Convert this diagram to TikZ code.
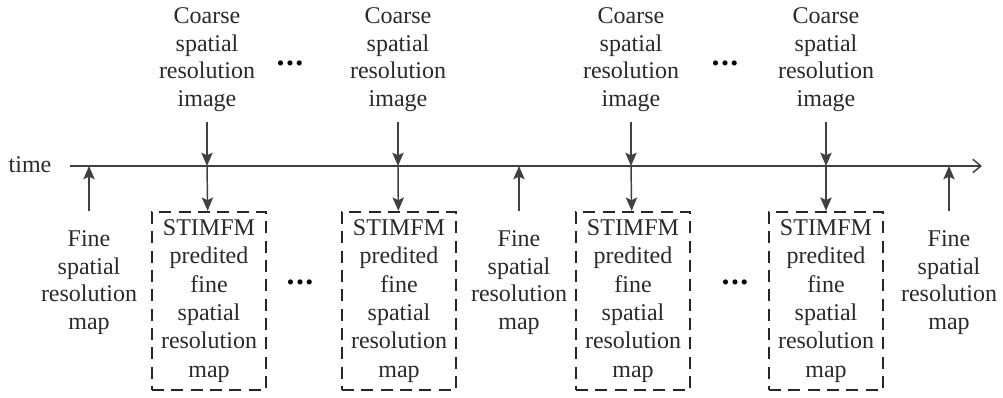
\documentclass[tikz,border=0pt]{standalone}
\usepackage{fontspec}
\setmainfont{Liberation Serif}
\usepackage{xcolor}
\usetikzlibrary{arrows.meta}

\definecolor{linegray}{HTML}{404040}
\definecolor{textgray}{HTML}{2A2A2A}

\begin{document}
\begin{tikzpicture}[x=0.75pt,y=-0.75pt,font=\fontsize{18}{20.6}\selectfont,text=textgray]
\useasboundingbox (0,0) rectangle (1003,398);
% time axis
\coordinate (AX-start) at (70,166);
\coordinate (AX-end) at (982,166);
\node (TIME) at (30,165) {time};
\begin{scope}[every node/.style={align=center,inner sep=2pt,anchor=north}]
\node (IMG-1) at (207,5) {Coarse\\spatial\\resolution\\image};
\node (IMG-2) at (398,5) {Coarse\\spatial\\resolution\\image};
\node (IMG-3) at (631,5) {Coarse\\spatial\\resolution\\image};
\node (IMG-4) at (826,5) {Coarse\\spatial\\resolution\\image};
\node (MAP-1) at (89,228) {Fine\\spatial\\resolution\\map};
\node (MAP-2) at (519,228) {Fine\\spatial\\resolution\\map};
\node (MAP-3) at (949,228) {Fine\\spatial\\resolution\\map};
\end{scope}\begin{scope}[every node/.style={align=center,draw=black!85,line width=1.8pt,dash pattern=on 9pt off 5.5pt,minimum width=85.5pt,minimum height=133.5pt,inner sep=1pt,font=\fontsize{18}{21.2}\selectfont}]
\node (PRED-1) at (209,301) {STIMFM\\predited\\fine\\spatial\\resolution\\map};
\node (PRED-2) at (399,301) {STIMFM\\predited\\fine\\spatial\\resolution\\map};
\node (PRED-3) at (633,301) {STIMFM\\predited\\fine\\spatial\\resolution\\map};
\node (PRED-4) at (826,301) {STIMFM\\predited\\fine\\spatial\\resolution\\map};
\end{scope}\begin{scope}[every node/.style={inner sep=0pt,font=\fontsize{16}{16}\selectfont,text=black}]
\node (DOTS-1) at (290,66) {\textbullet\hspace{1.5pt}\textbullet\hspace{1.5pt}\textbullet};
\node (DOTS-2) at (725,66) {\textbullet\hspace{1.5pt}\textbullet\hspace{1.5pt}\textbullet};
\node (DOTS-3) at (300,285) {\textbullet\hspace{1.5pt}\textbullet\hspace{1.5pt}\textbullet};
\node (DOTS-4) at (735,285) {\textbullet\hspace{1.5pt}\textbullet\hspace{1.5pt}\textbullet};
\end{scope}
% points where the arrows meet the axis
\coordinate (AX-1) at (IMG-1.south |- AX-start);
\coordinate (AX-2) at (IMG-2.south |- AX-start);
\coordinate (AX-3) at (IMG-3.south |- AX-start);
\coordinate (AX-4) at (IMG-4.south |- AX-start);
\coordinate (AX-5) at (MAP-1.north |- AX-start);
\coordinate (AX-6) at (MAP-2.north |- AX-start);
\coordinate (AX-7) at (MAP-3.north |- AX-start);
\begin{scope}[>={Stealth[length=10pt,width=8.5pt,inset=2pt]}, every edge/.style={draw=linegray,line width=1.1pt}]
\path [-{Straight Barb[length=6pt,width=10pt]}] (AX-start) edge (AX-end);
\path [->,shorten <=6pt] (IMG-1) edge (AX-1);
\path [->,shorten <=6pt] (IMG-2) edge (AX-2);
\path [->,shorten <=6pt] (IMG-3) edge (AX-3);
\path [->,shorten <=6pt] (IMG-4) edge (AX-4);
\path [->] (AX-1) edge (PRED-1);
\path [->] (AX-2) edge (PRED-2);
\path [->] (AX-3) edge (PRED-3);
\path [->] (AX-4) edge (PRED-4);
\path [->,shorten <=13pt] (MAP-1) edge (AX-5);
\path [->,shorten <=13pt] (MAP-2) edge (AX-6);
\path [->,shorten <=13pt] (MAP-3) edge (AX-7);
\end{scope}
\end{tikzpicture}
\end{document}
